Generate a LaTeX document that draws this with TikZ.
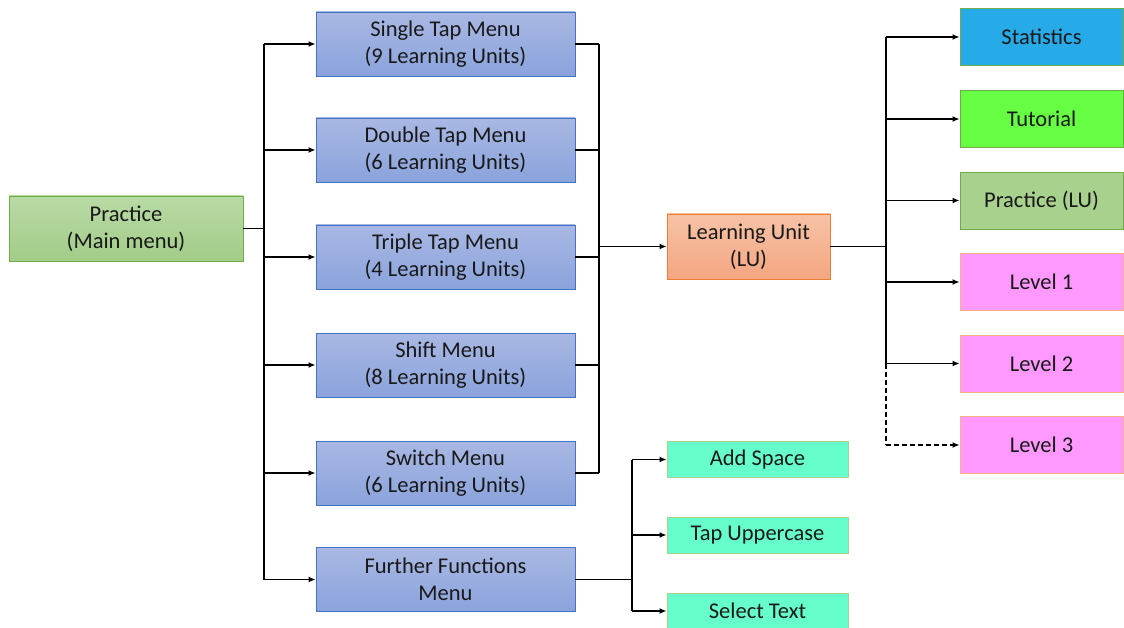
\documentclass[tikz,border=0pt]{standalone}
\usepackage{fontspec}
\setmainfont{Carlito}
\usetikzlibrary{arrows.meta,calc}

\definecolor{menuTop}{HTML}{A9B8E3}
\definecolor{menuBot}{HTML}{8AA3DC}
\definecolor{menuLine}{HTML}{4472C4}
\definecolor{mainTop}{HTML}{B9DAA5}
\definecolor{mainBot}{HTML}{A2CC88}
\definecolor{greenLine}{HTML}{70AD47}
\definecolor{luTop}{HTML}{F7C2A6}
\definecolor{luBot}{HTML}{F4A682}
\definecolor{orangeLine}{HTML}{ED7D31}
\definecolor{statFill}{HTML}{27AAE8}
\definecolor{tutFill}{HTML}{66FF44}
\definecolor{plFill}{HTML}{A9D18E}
\definecolor{levelFill}{HTML}{FF99FF}
\definecolor{levelLine}{HTML}{F4B183}
\definecolor{funcFill}{HTML}{66FFCC}
\definecolor{funcLine}{HTML}{A9D18E}

\tikzset{
  box/.style={rectangle, inner sep=0pt, align=center, line width=0.9pt,
    font=\fontsize{22.5}{27}\selectfont, text=black!90},
  menubox/.style={box, top color=menuTop, bottom color=menuBot, draw=menuLine,
    minimum width=259pt, minimum height=64pt},
  mainbox/.style={box, top color=mainTop, bottom color=mainBot, draw=greenLine,
    minimum width=234pt, minimum height=65pt},
  lubox/.style={box, top color=luTop, bottom color=luBot, draw=orangeLine,
    minimum width=163pt, minimum height=65pt},
  optbox/.style={box, minimum width=163pt, minimum height=57pt},
  funcbox/.style={box, fill=funcFill, draw=funcLine, minimum width=181pt, minimum height=36pt},
  link/.style={line width=1.6pt, black},
  arr/.style={link, -{Latex[length=7pt,width=6pt]}},
}

\begin{document}
\begin{tikzpicture}[x=1pt, y=-1pt]
\useasboundingbox (0,0) rectangle (1124,628);

% main menu and its sub-menus
\node[mainbox] (prac) at (126,228.5) {Practice\\(Main menu)};
\node[menubox] (single)  at (445.5,44)  {Single Tap Menu\\(9 Learning Units)};
\node[menubox] (double)  at (445.5,150) {Double Tap Menu\\(6 Learning Units)};
\node[menubox] (triple)  at (445.5,257) {Triple Tap Menu\\(4 Learning Units)};
\node[menubox] (shift)   at (445.5,365) {Shift Menu\\(8 Learning Units)};
\node[menubox] (switch)  at (445.5,473) {Switch Menu\\(6 Learning Units)};
\node[menubox] (further) at (445.5,579.5) {Further Functions\\Menu};

% learning unit
\node[lubox] (lu) at (748.5,246.5) {Learning Unit\\(LU)};

% learning unit options
\node[optbox, fill=statFill, draw=greenLine] (stat) at (1041.5,37) {Statistics};
\node[optbox, fill=tutFill, draw=greenLine] (tut) at (1041.5,119) {Tutorial};
\node[optbox, fill=plFill, draw=greenLine] (plu) at (1041.5,200.5) {Practice (LU)};
\node[optbox, fill=levelFill, draw=levelLine] (l1) at (1041.5,282) {Level 1};
\node[optbox, fill=levelFill, draw=levelLine] (l2) at (1041.5,363.5) {Level 2};
\node[optbox, fill=levelFill, draw=levelLine] (l3) at (1041.5,445) {Level 3};

% further functions
\node[funcbox] (add) at (757.5,459.5) {Add Space};
\node[funcbox] (upper) at (757.5,535) {Tap Uppercase};
\node[funcbox] (sel) at (757.5,611) {Select Text};

% bus lines
\coordinate (ltTop) at (264,44);
\coordinate (ltBot) at (264,579.5);
\coordinate (rcTop) at (599,44);
\coordinate (rcBot) at (599,473);
\coordinate (rtTop) at (886,37);
\coordinate (rtMid) at (886,363.5);
\coordinate (rtBot) at (886,445);
\coordinate (btTop) at (632,459.5);
\coordinate (btBot) at (632,611);

% main menu to sub-menus
\draw[link] (prac.east) -- (ltTop |- prac.east);
\draw[link] (ltTop) -- (ltBot);
\foreach \n in {single,double,triple,shift,switch,further}
  \draw[arr] (ltTop |- \n.west) -- (\n.west);

% sub-menus to learning unit
\draw[link] (rcTop) -- (rcBot);
\foreach \n in {single,double,triple,shift,switch}
  \draw[link] (\n.east) -- (rcTop |- \n.east);
\draw[arr] (rcTop |- lu.west) -- (lu.west);

% learning unit to options
\draw[link] (lu.east) -- (rtTop |- lu.east);
\draw[link] (rtTop) -- (rtMid);
\draw[link, dashed, dash pattern=on 5pt off 3pt] (rtMid) -- (rtBot);
\foreach \n in {stat,tut,plu,l1,l2}
  \draw[arr] (rtTop |- \n.west) -- (\n.west);
\draw[arr, dash pattern=on 5pt off 3pt] (rtBot) -- (l3.west);

% further functions menu to its functions
\draw[link] (further.east) -- (btTop |- further.east);
\draw[link] (btTop) -- (btBot);
\foreach \n in {add,upper,sel}
  \draw[arr] (btTop |- \n.west) -- (\n.west);
\end{tikzpicture}
\end{document}
